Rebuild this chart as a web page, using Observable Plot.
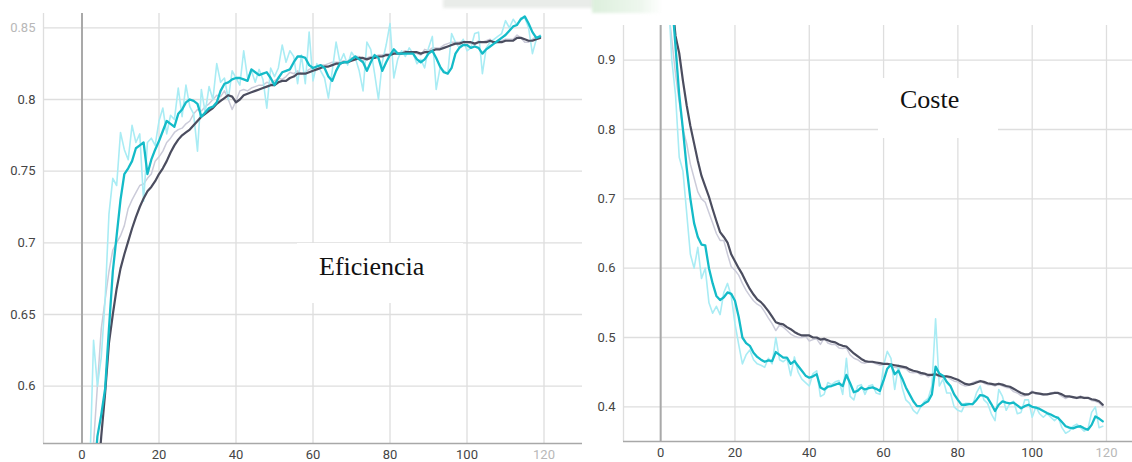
<!DOCTYPE html>
<html>
<head>
<meta charset="utf-8">
<script src="https://cdn.jsdelivr.net/npm/d3@7"></script>
<script src="https://cdn.jsdelivr.net/npm/@observablehq/plot@0.6"></script>
<style>
  html, body { margin: 0; padding: 0; background: #fff; }
  #page { position: relative; width: 1132px; height: 462px; overflow: hidden; background: #fff; }
  .panel { position: absolute; top: 0; }
  .tag {
    position: absolute; background: #fff; color: #111;
    font-family: "Liberation Serif", "Times New Roman", serif; font-size: 26px;
    box-sizing: border-box; white-space: nowrap;
  }
  .smudge { position: absolute; filter: blur(1.5px); }
</style>
</head>
<body>
<div id="page">
  <div class="smudge" style="left:443px;top:-2px;width:152px;height:10px;background:#e9ece9;"></div>
  <div class="smudge" style="left:592px;top:-3px;width:70px;height:16px;background:linear-gradient(90deg,#dcefdc,#eef7ee 70%,rgba(255,255,255,0));"></div>
  <div id="left" class="panel" style="left:0px"></div>
  <div id="right" class="panel" style="left:580px"></div>
  <div class="tag" style="left:297px;top:243px;width:166px;height:60px;padding:9px 0 0 22px;">Eficiencia</div>
  <div class="tag" style="left:878px;top:78px;width:120px;height:60px;padding:7px 0 0 22px;">Coste</div>
</div>
<script>
// Accuracy per epoch (0..119)
const accTrainSmooth = [0.30,0.36,0.42,0.48,0.53,0.565,0.595,0.63,0.65,0.668,0.682,0.692,0.701,0.71,0.718,0.725,0.731,0.736,0.739,0.743,
  0.748,0.752,0.757,0.763,0.768,0.772,0.775,0.777,0.779,0.782,0.785,0.788,0.79,0.792,0.794,0.797,0.799,0.801,0.803,0.802,
  0.798,0.8,0.803,0.804,0.805,0.806,0.807,0.808,0.809,0.81,0.81,0.812,0.813,0.813,0.815,0.816,0.818,0.818,0.818,0.819,
  0.82,0.821,0.822,0.823,0.823,0.824,0.825,0.825,0.826,0.826,0.827,0.828,0.829,0.829,0.828,0.829,0.829,0.83,0.83,0.831,
  0.831,0.832,0.832,0.832,0.833,0.833,0.833,0.833,0.832,0.833,0.833,0.834,0.835,0.835,0.836,0.837,0.838,0.839,0.839,0.84,
  0.84,0.84,0.839,0.84,0.84,0.84,0.841,0.84,0.84,0.84,0.841,0.841,0.841,0.843,0.843,0.842,0.841,0.841,0.842,0.843];
const accTrainRaw = [0.30,0.45,0.52,0.56,0.60,0.64,0.66,0.68,0.695,0.70,0.705,0.712,0.724,0.73,0.735,0.74,0.741,0.745,0.748,0.757,
  0.76,0.764,0.77,0.773,0.777,0.779,0.78,0.783,0.785,0.79,0.793,0.792,0.795,0.797,0.8,0.803,0.802,0.806,0.8,0.793,
  0.799,0.806,0.807,0.806,0.808,0.809,0.81,0.81,0.812,0.811,0.813,0.815,0.814,0.816,0.819,0.818,0.82,0.818,0.819,0.821,
  0.822,0.823,0.824,0.824,0.825,0.826,0.826,0.826,0.827,0.827,0.829,0.83,0.83,0.827,0.829,0.83,0.83,0.831,0.831,0.832,
  0.832,0.833,0.832,0.833,0.834,0.833,0.833,0.832,0.831,0.835,0.834,0.836,0.836,0.836,0.838,0.839,0.84,0.84,0.84,0.841,
  0.84,0.839,0.838,0.841,0.84,0.841,0.842,0.839,0.84,0.841,0.842,0.842,0.842,0.845,0.843,0.84,0.84,0.842,0.844,0.843];
const accValSmooth = [0.35,0.42,0.48,0.53,0.565,0.58,0.598,0.64,0.68,0.705,0.73,0.748,0.752,0.757,0.766,0.768,0.77,0.748,0.758,0.765,
  0.771,0.778,0.785,0.783,0.781,0.79,0.793,0.798,0.8,0.799,0.797,0.788,0.791,0.794,0.795,0.798,0.806,0.811,0.812,0.814,
  0.815,0.815,0.814,0.813,0.821,0.819,0.817,0.818,0.819,0.815,0.81,0.815,0.819,0.82,0.821,0.826,0.83,0.83,0.829,0.824,
  0.822,0.823,0.824,0.822,0.816,0.813,0.82,0.825,0.826,0.826,0.828,0.83,0.828,0.826,0.82,0.826,0.831,0.829,0.82,0.826,
  0.831,0.835,0.832,0.832,0.832,0.832,0.832,0.828,0.826,0.828,0.832,0.834,0.829,0.823,0.819,0.818,0.822,0.832,0.836,0.838,
  0.838,0.836,0.837,0.836,0.832,0.835,0.837,0.839,0.841,0.843,0.845,0.848,0.851,0.852,0.856,0.858,0.853,0.847,0.843,0.844];
const accValRaw = [0.34,0.45,0.54,0.632,0.60,0.62,0.66,0.72,0.745,0.74,0.777,0.765,0.758,0.782,0.77,0.776,0.729,0.77,0.773,0.768,
  0.785,0.794,0.776,0.789,0.786,0.808,0.788,0.81,0.795,0.79,0.764,0.807,0.791,0.809,0.80,0.825,0.812,0.815,0.80,0.82,
  0.815,0.81,0.834,0.815,0.82,0.812,0.821,0.814,0.794,0.822,0.816,0.822,0.838,0.826,0.834,0.83,0.811,0.831,0.811,0.847,
  0.813,0.825,0.82,0.815,0.801,0.82,0.84,0.826,0.832,0.824,0.833,0.829,0.82,0.806,0.84,0.835,0.818,0.8,0.826,0.838,
  0.853,0.815,0.828,0.834,0.83,0.836,0.832,0.825,0.828,0.822,0.836,0.844,0.807,0.822,0.82,0.818,0.846,0.84,0.836,0.842,
  0.834,0.836,0.846,0.847,0.818,0.836,0.84,0.842,0.844,0.846,0.855,0.85,0.856,0.852,0.857,0.857,0.85,0.832,0.842,0.845];

// Loss per epoch (0..119)
const lossTrainSmooth = [1.45,1.25,1.1,0.99,0.935,0.91,0.87,0.835,0.805,0.78,0.755,0.733,0.718,0.703,0.685,0.668,0.652,0.645,0.637,0.62,
  0.61,0.6,0.591,0.58,0.57,0.562,0.555,0.551,0.545,0.538,0.53,0.522,0.52,0.519,0.515,0.512,0.508,0.505,0.503,0.503,
  0.503,0.5,0.5,0.497,0.498,0.496,0.494,0.493,0.49,0.488,0.487,0.482,0.477,0.473,0.469,0.466,0.465,0.465,0.464,0.463,
  0.462,0.462,0.461,0.46,0.459,0.458,0.457,0.454,0.452,0.451,0.449,0.448,0.446,0.446,0.447,0.445,0.444,0.444,0.443,0.441,
  0.439,0.436,0.433,0.432,0.433,0.435,0.437,0.436,0.434,0.433,0.432,0.433,0.432,0.43,0.429,0.426,0.423,0.42,0.418,0.418,
  0.421,0.42,0.419,0.418,0.418,0.419,0.42,0.42,0.418,0.415,0.415,0.414,0.413,0.414,0.413,0.413,0.411,0.41,0.408,0.403];
const lossTrainRaw = [1.45,1.1,0.98,0.93,0.88,0.84,0.8,0.78,0.75,0.73,0.71,0.7,0.695,0.68,0.665,0.65,0.64,0.64,0.62,0.602,
  0.597,0.59,0.578,0.568,0.56,0.553,0.548,0.545,0.537,0.528,0.52,0.51,0.518,0.515,0.51,0.505,0.502,0.5,0.5,0.502,
  0.495,0.497,0.498,0.49,0.499,0.492,0.49,0.49,0.485,0.484,0.485,0.475,0.47,0.468,0.464,0.463,0.465,0.464,0.462,0.46,
  0.461,0.462,0.459,0.457,0.456,0.456,0.455,0.45,0.449,0.45,0.446,0.447,0.443,0.446,0.449,0.442,0.443,0.444,0.44,0.437,
  0.436,0.432,0.43,0.431,0.435,0.437,0.438,0.434,0.432,0.432,0.43,0.434,0.43,0.428,0.427,0.422,0.42,0.416,0.416,0.418,
  0.423,0.418,0.418,0.417,0.418,0.42,0.421,0.419,0.415,0.412,0.415,0.413,0.412,0.416,0.412,0.413,0.409,0.408,0.406,0.40];
const lossValSmooth = [1.6,1.35,1.15,0.99,0.92,0.85,0.8,0.745,0.7,0.665,0.645,0.634,0.633,0.6,0.578,0.56,0.554,0.558,0.565,0.563,
  0.553,0.53,0.5,0.492,0.488,0.478,0.472,0.468,0.465,0.467,0.466,0.479,0.475,0.471,0.471,0.462,0.466,0.459,0.452,0.445,
  0.442,0.444,0.447,0.428,0.425,0.429,0.43,0.432,0.434,0.43,0.446,0.434,0.421,0.423,0.428,0.425,0.427,0.428,0.426,0.423,
  0.438,0.455,0.461,0.447,0.452,0.441,0.428,0.418,0.408,0.401,0.401,0.405,0.408,0.418,0.458,0.448,0.445,0.436,0.43,0.418,
  0.41,0.403,0.403,0.404,0.404,0.41,0.417,0.416,0.413,0.404,0.394,0.403,0.408,0.406,0.405,0.406,0.402,0.398,0.401,0.403,
  0.4,0.399,0.397,0.394,0.391,0.389,0.386,0.384,0.378,0.372,0.37,0.369,0.371,0.372,0.369,0.367,0.374,0.386,0.383,0.379];
const lossValRaw = [1.6,1.2,1.0,0.9,0.85,0.76,0.74,0.68,0.62,0.6,0.63,0.585,0.6,0.55,0.535,0.545,0.533,0.565,0.578,0.56,
  0.52,0.49,0.462,0.475,0.482,0.468,0.462,0.46,0.457,0.47,0.462,0.5,0.468,0.465,0.47,0.445,0.472,0.45,0.44,0.435,
  0.43,0.448,0.452,0.415,0.418,0.435,0.432,0.436,0.438,0.418,0.47,0.415,0.41,0.43,0.432,0.418,0.43,0.432,0.42,0.418,
  0.46,0.48,0.47,0.425,0.46,0.428,0.41,0.405,0.395,0.39,0.4,0.408,0.412,0.43,0.527,0.43,0.44,0.42,0.42,0.4,
  0.395,0.393,0.405,0.405,0.403,0.42,0.43,0.41,0.405,0.39,0.38,0.425,0.415,0.395,0.405,0.408,0.39,0.392,0.41,0.41,
  0.385,0.4,0.39,0.385,0.39,0.385,0.38,0.385,0.37,0.362,0.365,0.372,0.375,0.37,0.365,0.368,0.392,0.40,0.37,0.372];

const xTicks = [0, 20, 40, 60, 80, 100, 120];
const accTicks = [0.6, 0.65, 0.7, 0.75, 0.8, 0.85];
const lossTicks = [0.4, 0.5, 0.6, 0.7, 0.8, 0.9];

const colors = {
  trainRaw: "#cbcbd9",
  valRaw: "#a9ecf4",
  train: "#4b4d5f",
  val: "#14bbc8",
  grid: "#dedede",
  zero: "#a9a9a9",
  axis: "#a8a8a8",
  text: "#454545"
};

function panel({series, xDomain, yDomain, yTicks, width, height, margins, faded}) {
  const [mt, mr, mb, ml] = margins;
  const lines = series.map(([values, stroke, sw]) =>
    Plot.line(values, {x: (d, i) => i, y: d => d, stroke, strokeWidth: sw, clip: true, curve: "linear", strokeLinejoin: "round"}));
  const svg = Plot.plot({
    width, height,
    marginTop: mt, marginRight: mr, marginBottom: mb, marginLeft: ml,
    style: {fontFamily: "Roboto, 'Noto Sans', sans-serif", fontSize: "13px", color: colors.text, background: "transparent"},
    x: {domain: xDomain, ticks: xTicks, tickSize: 0, tickPadding: 6, label: null},
    y: {domain: yDomain, ticks: yTicks, tickSize: 0, tickPadding: 8, label: null, tickFormat: d => String(d)},
    marks: [
      Plot.gridX(xTicks, {stroke: colors.grid, strokeOpacity: 1, strokeWidth: 1.3}),
      Plot.gridY(yTicks, {stroke: colors.grid, strokeOpacity: 1, strokeWidth: 1.3}),
      Plot.ruleX([xDomain[0]], {stroke: colors.grid, strokeWidth: 1.3}),
      Plot.ruleX([0], {stroke: colors.zero, strokeWidth: 2}),
      Plot.ruleY([yDomain[0]], {stroke: colors.axis, strokeWidth: 1.5}),
      ...lines
    ]
  });
  d3.select(svg).selectAll("text")
    .filter(function () { return faded.includes(this.textContent); })
    .attr("fill", "#b8b8b8");
  return svg;
}

document.getElementById("left").append(panel({
  series: [
    [accTrainRaw, colors.trainRaw, 1.5],
    [accValRaw, colors.valRaw, 1.6],
    [accTrainSmooth, colors.train, 2.2],
    [accValSmooth, colors.val, 2.3]
  ],
  xDomain: [-10, 130], yDomain: [0.56, 0.86], yTicks: accTicks,
  width: 592, height: 462, margins: [13, 10, 19, 43], faded: ["0.85", "120"]
}));

document.getElementById("right").append(panel({
  series: [
    [lossTrainRaw, colors.trainRaw, 1.5],
    [lossValRaw, colors.valRaw, 1.6],
    [lossTrainSmooth, colors.train, 2.2],
    [lossValSmooth, colors.val, 2.3]
  ],
  xDomain: [-10, 127], yDomain: [0.35, 0.95], yTicks: lossTicks,
  width: 552, height: 462, margins: [25, 0, 21, 43], faded: ["120"]
}));
</script>
</body>
</html>
